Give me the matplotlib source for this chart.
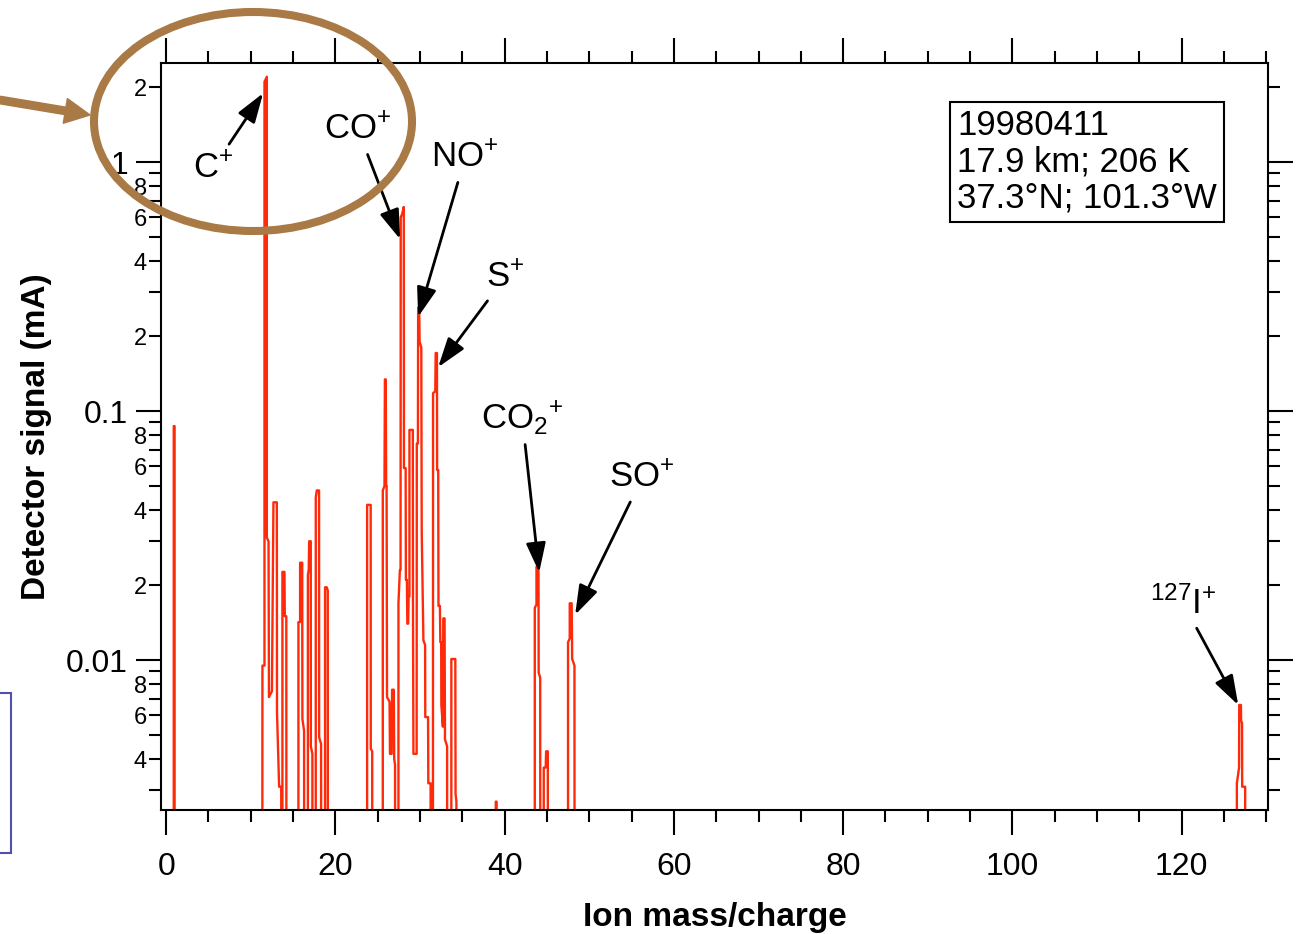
import numpy as np
import matplotlib
matplotlib.use("Agg")
import matplotlib.pyplot as plt
from matplotlib.ticker import LogLocator, MultipleLocator, FuncFormatter
from matplotlib.patches import Ellipse, Rectangle, FancyArrowPatch

plt.rcParams['font.family'] = ['Liberation Sans', 'DejaVu Sans']
plt.rcParams['mathtext.default'] = 'regular'

# Mass spectrum (ion mass/charge vs detector signal in mA).
# Values of 1e-4 sit below the axis floor (signal off scale).
mass = [
    0.0,
    0.9, 0.9, 1.0, 1.0,
    11.35, 11.38, 11.62, 11.62, 11.9, 11.9, 12.1, 12.15, 12.5, 12.68, 13.08, 13.1, 13.35, 13.6, 13.65,
    13.74, 13.74, 13.98, 14.02, 14.2, 14.22,
    15.63, 15.63, 15.83, 15.83, 16.08, 16.1, 16.3, 16.32,
    16.75, 16.75, 16.85, 16.9, 17.09, 17.1, 17.28, 17.3,
    17.68, 17.68, 17.8, 18.07, 18.08, 18.31, 18.33,
    18.78, 18.78, 18.98, 19.1, 19.12,
    23.75, 23.75, 24.17, 24.18, 24.35, 24.37,
    25.6, 25.6, 25.8, 25.85, 25.95, 26.0, 26.05, 26.1, 26.4, 26.45, 26.65, 26.7, 26.9, 26.95, 27.05, 27.1,
    27.45, 27.45, 27.62, 27.7, 27.72, 27.9, 28.08, 28.1, 28.3, 28.33, 28.45, 28.5, 28.6, 28.65, 28.75,
    28.75, 29.15, 29.17, 29.22, 29.6, 29.62, 29.75, 29.78, 29.9, 29.95, 30.15, 30.2, 30.4, 30.6, 30.62,
    30.95, 30.98, 31.25, 31.27,
    31.52, 31.54, 31.8, 31.85, 32.0, 32.02, 32.15, 32.18, 32.35, 32.4, 32.5, 32.52, 32.7, 32.75, 32.9,
    32.95, 33.2, 33.22,
    33.7, 33.7, 34.17, 34.2, 34.3, 34.32,
    38.95, 38.95, 39.05, 39.05,
    43.56, 43.56, 43.76, 43.76, 44.0, 44.02, 44.2, 44.22,
    44.62, 44.62, 44.85, 44.9, 45.1, 45.12,
    47.49, 47.49, 47.69, 47.69, 47.92, 47.98, 48.25, 48.27,
    126.52, 126.52, 126.78, 126.8, 127.0, 127.02, 127.13, 127.15, 127.5, 127.5,
    130.0,
]
signal = [
    1e-4,
    1e-4, 0.087, 0.087, 1e-4,
    1e-4, 0.0095, 0.0095, 2.1, 2.2, 0.031, 0.030, 0.0071, 0.0075, 0.043, 0.043, 0.0062, 0.0031, 0.0031, 1e-4,
    1e-4, 0.0226, 0.0226, 0.015, 0.015, 1e-4,
    1e-4, 0.0142, 0.0142, 0.0246, 0.0246, 0.0058, 0.0052, 1e-4,
    1e-4, 0.022, 0.023, 0.030, 0.030, 0.0045, 0.0042, 1e-4,
    1e-4, 0.045, 0.048, 0.048, 0.0049, 0.0046, 1e-4,
    1e-4, 0.0196, 0.0196, 0.019, 1e-4,
    1e-4, 0.042, 0.042, 0.0044, 0.0043, 1e-4,
    1e-4, 0.048, 0.05, 0.134, 0.134, 0.05, 0.05, 0.0071, 0.0068, 0.0042, 0.0042, 0.0076, 0.0076, 0.0040, 0.0038, 1e-4,
    1e-4, 0.0169, 0.023, 0.023, 0.6, 0.62, 0.66, 0.059, 0.059, 0.021, 0.021, 0.014, 0.014, 0.018, 0.018,
    0.084, 0.084, 0.0165, 0.0042, 0.0042, 0.074, 0.074, 0.26, 0.26, 0.19, 0.18, 0.033, 0.012, 0.0115, 0.0059,
    0.0059, 0.0032, 0.0032, 1e-4,
    1e-4, 0.118, 0.12, 0.171, 0.171, 0.058, 0.058, 0.0165, 0.0165, 0.0118, 0.0118, 0.0066, 0.0054, 0.0147, 0.0147,
    0.0048, 0.0045, 1e-4,
    1e-4, 0.0101, 0.0101, 0.0029, 0.0027, 1e-4,
    1e-4, 0.0027, 0.0027, 1e-4,
    1e-4, 0.0162, 0.0167, 0.0237, 0.0237, 0.0089, 0.0085, 1e-4,
    1e-4, 0.0037, 0.0037, 0.0043, 0.0043, 1e-4,
    1e-4, 0.0118, 0.0122, 0.0169, 0.0169, 0.0101, 0.0095, 1e-4,
    1e-4, 0.0032, 0.0037, 0.0066, 0.0066, 0.0057, 0.0056, 0.0031, 0.0031, 1e-4,
    1e-4,
]

# Peak labels: text position and arrow tip (data coordinates)
ion_labels = ['C$^{+}$', 'CO$^{+}$', 'NO$^{+}$', 'S$^{+}$', 'CO$_{2}$$^{+}$', 'SO$^{+}$', '$^{127}$I$^{+}$']
label_x = [5.55, 22.69, 35.33, 40.06, 42.07, 56.25, 120.18]
label_y = [0.946, 1.345, 1.04, 0.345, 0.094, 0.054, 0.0169]
tip_x = [11.46, 27.65, 29.78, 32.14, 44.08, 48.33, 126.68]
tip_y = [1.89, 0.49, 0.239, 0.15, 0.0225, 0.0152, 0.0066]

info_text = "19980411\n17.9 km; 206 K\n37.3°N; 101.3°W"

fig = plt.figure(figsize=(12.96, 9.34), dpi=100)
ax = fig.add_axes([0.1246, 0.1328, 0.8538, 0.7998])

ax.plot(mass, signal, color='#ff2a0a', lw=1.7)

ax.set_yscale('log')
ax.set_xlim(-0.55, 130.2)
ax.set_ylim(0.0025, 2.5)

ax.xaxis.set_major_locator(MultipleLocator(20))
ax.xaxis.set_minor_locator(MultipleLocator(5))
ax.yaxis.set_major_locator(LogLocator(base=10, numticks=10))
ax.yaxis.set_minor_locator(LogLocator(base=10, subs=range(2, 10), numticks=20))


def minor_fmt(v, pos):
    k = int(round(v / 10 ** np.floor(np.log10(v) + 1e-9)))
    return str(k) if k in (2, 4, 6, 8) else ''


ax.yaxis.set_major_formatter(FuncFormatter(lambda v, p: f'{v:g}'))
ax.yaxis.set_minor_formatter(FuncFormatter(minor_fmt))

ax.tick_params(which='both', direction='out', top=True, right=True, width=1.5, color='black')
ax.tick_params(which='major', length=18, labelsize=23)
ax.tick_params(which='minor', length=8.6, labelsize=17)
ax.tick_params(axis='x', which='major', pad=12)
ax.tick_params(axis='y', which='major', pad=6)
ax.tick_params(axis='y', which='minor', pad=2)
for sp in ax.spines.values():
    sp.set_linewidth(1.5)

ax.set_xlabel('Ion mass/charge', fontsize=24, fontweight='bold', labelpad=15)
ax.set_ylabel('Detector signal (mA)', fontsize=24, fontweight='bold', labelpad=10)

for lab, lx, ly, tx, ty in zip(ion_labels, label_x, label_y, tip_x, tip_y):
    ax.annotate(lab, xy=(tx, ty), xytext=(lx, ly), fontsize=25, ha='center', va='center',
                arrowprops=dict(arrowstyle='-|>,head_length=0.9,head_width=0.3', color='black',
                                lw=2, mutation_scale=20, shrinkA=4, shrinkB=0))

ax.text(0.719, 0.9384, info_text, transform=ax.transAxes, ha='left', va='top', fontsize=25,
        linespacing=1.13,
        bbox=dict(boxstyle='square,pad=0.2', fc='white', ec='black', lw=1.5))

# slide highlights drawn over the figure
brown = '#a97a45'
fig.add_artist(Ellipse((253 / 1296, 1 - 121.5 / 934), 318 / 1296, 219 / 934,
                       transform=fig.transFigure, fill=False, ec=brown, lw=5.8, clip_on=False))
fig.add_artist(FancyArrowPatch((0.0, 1 - 100 / 934), (90 / 1296, 1 - 115 / 934),
                               transform=fig.transFigure,
                               arrowstyle='simple,head_length=0.5,head_width=0.5,tail_width=0.15',
                               mutation_scale=36, color=brown, shrinkA=0, shrinkB=0))
fig.add_artist(Rectangle((-0.01, 1 - 853 / 934), 11 / 1296 + 0.01, 160 / 934,
                         transform=fig.transFigure, fill=False, ec='#5050b4', lw=1.5, clip_on=False))

fig.savefig('out.png', dpi=100)
